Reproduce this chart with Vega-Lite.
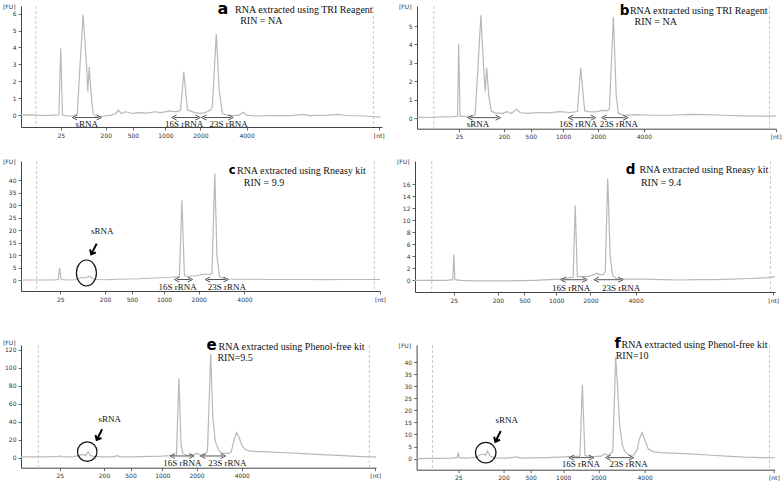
{
  "$schema": "https://vega.github.io/schema/vega-lite/v6.json",
  "padding": {"left": 2, "top": 0, "right": 0, "bottom": 0},
  "spacing": 32,
  "datasets": {
    "trace": [
      {"p":"a","u":0,"v":0},{"p":"a","u":3,"v":0.02},{"p":"a","u":6,"v":-0.03},{"p":"a","u":9,"v":0},{"p":"a","u":10.5,"v":0.02},{"p":"a","u":11.0,"v":3.94},{"p":"a","u":11.5,"v":0.0},{"p":"a","u":13,"v":-0.05},{"p":"a","u":15,"v":-0.05},{"p":"a","u":15.6,"v":0.1},{"p":"a","u":16.3,"v":2.8},{"p":"a","u":17.2,"v":5.93},{"p":"a","u":18.2,"v":2.8},{"p":"a","u":18.5,"v":1.4},{"p":"a","u":18.9,"v":2.85},{"p":"a","u":19.5,"v":1.05},{"p":"a","u":20.0,"v":0.07},{"p":"a","u":21,"v":-0.1},{"p":"a","u":23,"v":-0.05},{"p":"a","u":25,"v":0.0},{"p":"a","u":26.3,"v":0.1},{"p":"a","u":27,"v":0.3},{"p":"a","u":27.8,"v":0.1},{"p":"a","u":29,"v":0.2},{"p":"a","u":31,"v":0.1},{"p":"a","u":33,"v":0.15},{"p":"a","u":35,"v":0.12},{"p":"a","u":37,"v":0.2},{"p":"a","u":39,"v":0.15},{"p":"a","u":41,"v":0.25},{"p":"a","u":43,"v":0.2},{"p":"a","u":44.2,"v":0.3},{"p":"a","u":45.1,"v":2.56},{"p":"a","u":46.1,"v":0.3},{"p":"a","u":47,"v":0.25},{"p":"a","u":48,"v":0.15},{"p":"a","u":49.5,"v":0.1},{"p":"a","u":51,"v":0.15},{"p":"a","u":52.5,"v":0.3},{"p":"a","u":53.0,"v":0.5},{"p":"a","u":54.1,"v":4.79},{"p":"a","u":54.9,"v":1.5},{"p":"a","u":55.8,"v":0.1},{"p":"a","u":57,"v":0.0},{"p":"a","u":59,"v":-0.03},{"p":"a","u":60.5,"v":0.0},{"p":"a","u":61.6,"v":0.17},{"p":"a","u":62.5,"v":0.0},{"p":"a","u":65,"v":-0.05},{"p":"a","u":70,"v":-0.03},{"p":"a","u":75,"v":-0.03},{"p":"a","u":78,"v":0.05},{"p":"a","u":80,"v":-0.03},{"p":"a","u":85,"v":0.0},{"p":"a","u":88,"v":0.05},{"p":"a","u":90,"v":-0.02},{"p":"a","u":95,"v":-0.05},{"p":"a","u":99.6,"v":-0.12},

      {"p":"b","u":-0.7,"v":0.05},{"p":"b","u":3,"v":0.03},{"p":"b","u":6,"v":0.06},{"p":"b","u":9,"v":0.07},{"p":"b","u":10.6,"v":0.1},{"p":"b","u":10.9,"v":4.04},{"p":"b","u":11.3,"v":0.1},{"p":"b","u":13,"v":0.08},{"p":"b","u":15,"v":0.1},{"p":"b","u":15.5,"v":0.2},{"p":"b","u":16.3,"v":2.8},{"p":"b","u":17.1,"v":5.58},{"p":"b","u":17.9,"v":2.6},{"p":"b","u":18.3,"v":1.45},{"p":"b","u":18.7,"v":2.74},{"p":"b","u":19.3,"v":1.2},{"p":"b","u":20.0,"v":0.38},{"p":"b","u":21,"v":0.28},{"p":"b","u":23,"v":0.25},{"p":"b","u":24.5,"v":0.35},{"p":"b","u":25.5,"v":0.25},{"p":"b","u":27.0,"v":0.47},{"p":"b","u":28,"v":0.3},{"p":"b","u":30,"v":0.25},{"p":"b","u":33,"v":0.3},{"p":"b","u":36,"v":0.28},{"p":"b","u":39,"v":0.35},{"p":"b","u":42,"v":0.3},{"p":"b","u":44.0,"v":0.35},{"p":"b","u":44.9,"v":2.73},{"p":"b","u":46.0,"v":0.4},{"p":"b","u":47,"v":0.35},{"p":"b","u":49,"v":0.33},{"p":"b","u":51,"v":0.42},{"p":"b","u":52.5,"v":0.4},{"p":"b","u":52.9,"v":0.5},{"p":"b","u":54.0,"v":5.49},{"p":"b","u":54.8,"v":1.2},{"p":"b","u":55.4,"v":0.25},{"p":"b","u":57,"v":0.15},{"p":"b","u":60,"v":0.18},{"p":"b","u":65,"v":0.15},{"p":"b","u":70,"v":0.15},{"p":"b","u":75,"v":0.2},{"p":"b","u":80,"v":0.18},{"p":"b","u":85,"v":0.15},{"p":"b","u":90,"v":0.12},{"p":"b","u":95,"v":0.1},{"p":"b","u":99.3,"v":0.12},

      {"p":"c","u":0,"v":0.1},{"p":"c","u":5,"v":0.1},{"p":"c","u":9,"v":0.1},{"p":"c","u":10.4,"v":0.3},{"p":"c","u":10.8,"v":4.9},{"p":"c","u":11.2,"v":0.3},{"p":"c","u":13,"v":0.1},{"p":"c","u":15,"v":0.2},{"p":"c","u":16,"v":0.8},{"p":"c","u":17,"v":1.1},{"p":"c","u":18,"v":0.9},{"p":"c","u":19,"v":1.6},{"p":"c","u":20,"v":0.7},{"p":"c","u":21,"v":0.3},{"p":"c","u":24,"v":0.2},{"p":"c","u":27,"v":0.4},{"p":"c","u":30,"v":0.5},{"p":"c","u":33,"v":0.6},{"p":"c","u":36,"v":0.8},{"p":"c","u":39,"v":1.0},{"p":"c","u":42,"v":1.2},{"p":"c","u":44.3,"v":1.5},{"p":"c","u":45.0,"v":32},{"p":"c","u":45.7,"v":1.8},{"p":"c","u":47,"v":1.6},{"p":"c","u":49,"v":1.8},{"p":"c","u":50.5,"v":2.2},{"p":"c","u":51.7,"v":2.5},{"p":"c","u":52.8,"v":2.3},{"p":"c","u":53.4,"v":2.8},{"p":"c","u":54.2,"v":42.7},{"p":"c","u":54.8,"v":10},{"p":"c","u":55.5,"v":1.5},{"p":"c","u":57,"v":0.5},{"p":"c","u":60,"v":0.4},{"p":"c","u":65,"v":0.4},{"p":"c","u":70,"v":0.3},{"p":"c","u":75,"v":0.3},{"p":"c","u":80,"v":0.3},{"p":"c","u":85,"v":0.25},{"p":"c","u":90,"v":0.3},{"p":"c","u":95,"v":0.3},{"p":"c","u":100.4,"v":0.3},

      {"p":"d","u":0,"v":0},{"p":"d","u":5,"v":0},{"p":"d","u":9,"v":0},{"p":"d","u":10.7,"v":0.1},{"p":"d","u":11.0,"v":4.3},{"p":"d","u":11.3,"v":0.1},{"p":"d","u":13,"v":0},{"p":"d","u":17,"v":-0.1},{"p":"d","u":21,"v":-0.1},{"p":"d","u":25,"v":-0.1},{"p":"d","u":30,"v":-0.05},{"p":"d","u":34,"v":0},{"p":"d","u":38,"v":0.1},{"p":"d","u":41,"v":0.2},{"p":"d","u":43,"v":0.4},{"p":"d","u":44.8,"v":0.5},{"p":"d","u":45.4,"v":12.5},{"p":"d","u":46.0,"v":0.6},{"p":"d","u":47.5,"v":0.6},{"p":"d","u":49,"v":0.6},{"p":"d","u":50.5,"v":0.9},{"p":"d","u":51.6,"v":1.2},{"p":"d","u":52.5,"v":0.9},{"p":"d","u":53.5,"v":1.0},{"p":"d","u":53.9,"v":1.5},{"p":"d","u":54.6,"v":17.0},{"p":"d","u":55.3,"v":4},{"p":"d","u":56,"v":0.8},{"p":"d","u":57,"v":0.3},{"p":"d","u":60,"v":0.2},{"p":"d","u":65,"v":0.2},{"p":"d","u":70,"v":0.1},{"p":"d","u":75,"v":0.05},{"p":"d","u":80,"v":0.1},{"p":"d","u":85,"v":0.1},{"p":"d","u":90,"v":0.2},{"p":"d","u":95,"v":0.3},{"p":"d","u":100,"v":0.45},{"p":"d","u":102,"v":0.6},

      {"p":"e","u":0,"v":1},{"p":"e","u":5,"v":1},{"p":"e","u":9,"v":1.2},{"p":"e","u":10.7,"v":1.5},{"p":"e","u":11.0,"v":2.2},{"p":"e","u":11.3,"v":1.2},{"p":"e","u":13,"v":1},{"p":"e","u":15,"v":1.2},{"p":"e","u":16.5,"v":2.5},{"p":"e","u":17.5,"v":3.7},{"p":"e","u":18.3,"v":2.5},{"p":"e","u":19.0,"v":6.7},{"p":"e","u":19.6,"v":2.5},{"p":"e","u":20.5,"v":1.5},{"p":"e","u":23,"v":1},{"p":"e","u":26,"v":1},{"p":"e","u":27.3,"v":2.2},{"p":"e","u":28,"v":1},{"p":"e","u":31,"v":1},{"p":"e","u":34,"v":1.2},{"p":"e","u":37,"v":1.5},{"p":"e","u":40,"v":1.8},{"p":"e","u":42,"v":2.2},{"p":"e","u":44.0,"v":3},{"p":"e","u":44.7,"v":88},{"p":"e","u":45.3,"v":15},{"p":"e","u":45.8,"v":5},{"p":"e","u":47,"v":2.5},{"p":"e","u":48.5,"v":2.5},{"p":"e","u":49.8,"v":5},{"p":"e","u":50.8,"v":2.8},{"p":"e","u":52,"v":3},{"p":"e","u":52.8,"v":8},{"p":"e","u":53.7,"v":115},{"p":"e","u":54.3,"v":45},{"p":"e","u":55,"v":18},{"p":"e","u":56,"v":8},{"p":"e","u":57,"v":5},{"p":"e","u":58.5,"v":4.5},{"p":"e","u":59.5,"v":6},{"p":"e","u":60.2,"v":18},{"p":"e","u":61.0,"v":28},{"p":"e","u":61.7,"v":23},{"p":"e","u":62.5,"v":14},{"p":"e","u":63.3,"v":9.6},{"p":"e","u":64.5,"v":7.5},{"p":"e","u":66,"v":7},{"p":"e","u":70,"v":6.5},{"p":"e","u":75,"v":5.5},{"p":"e","u":80,"v":4.5},{"p":"e","u":85,"v":3.5},{"p":"e","u":90,"v":2.5},{"p":"e","u":95,"v":1.5},{"p":"e","u":98,"v":1},{"p":"e","u":100.5,"v":1},

      {"p":"f","u":-0.5,"v":0},{"p":"f","u":5,"v":0.1},{"p":"f","u":9,"v":0.2},{"p":"f","u":10.7,"v":0.4},{"p":"f","u":11.0,"v":2.5},{"p":"f","u":11.3,"v":0.4},{"p":"f","u":13,"v":0.2},{"p":"f","u":16,"v":0.5},{"p":"f","u":17,"v":1.6},{"p":"f","u":18,"v":1.8},{"p":"f","u":18.5,"v":1.4},{"p":"f","u":19.1,"v":3.2},{"p":"f","u":19.7,"v":1.2},{"p":"f","u":21,"v":0.3},{"p":"f","u":24,"v":0.2},{"p":"f","u":27.4,"v":0.7},{"p":"f","u":28,"v":0.2},{"p":"f","u":31,"v":0.3},{"p":"f","u":35,"v":0.4},{"p":"f","u":39,"v":0.6},{"p":"f","u":42,"v":0.8},{"p":"f","u":44.6,"v":1},{"p":"f","u":45.3,"v":30.5},{"p":"f","u":46.0,"v":1.2},{"p":"f","u":48,"v":0.8},{"p":"f","u":50.5,"v":1},{"p":"f","u":51.5,"v":2},{"p":"f","u":52.5,"v":1.2},{"p":"f","u":53.7,"v":3},{"p":"f","u":54.5,"v":42},{"p":"f","u":55.0,"v":30},{"p":"f","u":55.6,"v":14},{"p":"f","u":56.3,"v":6},{"p":"f","u":57,"v":3},{"p":"f","u":58,"v":1.6},{"p":"f","u":59.5,"v":1.5},{"p":"f","u":60.5,"v":4},{"p":"f","u":61.0,"v":8},{"p":"f","u":61.8,"v":10.8},{"p":"f","u":62.5,"v":8},{"p":"f","u":63.5,"v":4},{"p":"f","u":65,"v":2.8},{"p":"f","u":67,"v":2.5},{"p":"f","u":70,"v":2.3},{"p":"f","u":75,"v":2},{"p":"f","u":80,"v":1.5},{"p":"f","u":85,"v":1},{"p":"f","u":90,"v":0.6},{"p":"f","u":95,"v":0.4},{"p":"f","u":98.4,"v":0.4}
    ],
    "vline": [
      {"p":"a","u":4.1},{"p":"a","u":97.6},
      {"p":"b","u":4.0},{"p":"b","u":97.5},
      {"p":"c","u":4.4},{"p":"c","u":98.8},
      {"p":"d","u":4.75},{"p":"d","u":100.7},
      {"p":"e","u":4.9},{"p":"e","u":98.6},
      {"p":"f","u":3.9},{"p":"f","u":97.0}
    ],
    "arrow": [
      {"p":"a","u1":14.9,"u2":21.6,"v":-0.14},{"p":"a","u1":42.4,"u2":49.0,"v":-0.14},{"p":"a","u1":50.7,"u2":58.1,"v":-0.14},
      {"p":"b","u1":14.1,"u2":21.9,"v":0.02},{"p":"b","u1":42.1,"u2":48.4,"v":0.02},{"p":"b","u1":51.4,"u2":57.4,"v":0.02},
      {"p":"c","u1":43.6,"u2":47.3,"v":0.3},{"p":"c","u1":52.2,"u2":57.3,"v":0.3},
      {"p":"d","u1":42.0,"u2":48.1,"v":0.1},{"p":"d","u1":51.4,"u2":58.3,"v":0.1},
      {"p":"e","u1":42.9,"u2":48.3,"v":1.9},{"p":"e","u1":51.5,"u2":57.2,"v":1.9},
      {"p":"f","u1":42.3,"u2":47.8,"v":0.4},{"p":"f","u1":52.4,"u2":58.8,"v":0.4}
    ],
    "label": [
      {"p":"a","u":18.2,"v":-0.55,"t":"sRNA"},{"p":"a","u":45.2,"v":-0.55,"t":"16S rRNA"},{"p":"a","u":57.5,"v":-0.55,"t":"23S rRNA"},
      {"p":"b","u":16.3,"v":-0.31,"t":"sRNA"},{"p":"b","u":44.2,"v":-0.31,"t":"16S rRNA"},{"p":"b","u":55.5,"v":-0.31,"t":"23S rRNA"},
      {"p":"c","u":22.7,"v":19.7,"t":"sRNA"},{"p":"c","u":43.8,"v":-2.7,"t":"16S rRNA"},{"p":"c","u":57.6,"v":-2.7,"t":"23S rRNA"},
      {"p":"d","u":44.2,"v":-1.2,"t":"16S rRNA"},{"p":"d","u":58.4,"v":-1.2,"t":"23S rRNA"},
      {"p":"e","u":25.1,"v":43,"t":"sRNA"},{"p":"e","u":45.7,"v":-6.3,"t":"16S rRNA"},{"p":"e","u":58.4,"v":-6.3,"t":"23S rRNA"},
      {"p":"f","u":24.4,"v":15.9,"t":"sRNA"},{"p":"f","u":44.9,"v":-2.3,"t":"16S rRNA"},{"p":"f","u":58.1,"v":-2.3,"t":"23S rRNA"}
    ],
    "letter": [
      {"p":"a","u":54.4,"v":5.98,"t":"a"},{"p":"b","u":55.8,"v":5.6,"t":"b"},{"p":"c","u":58.1,"v":42.4,"t":"c"},
      {"p":"d","u":59.7,"v":17.7,"t":"d"},{"p":"e","u":52.5,"v":118.9,"t":"e"},{"p":"f","u":54.2,"v":45.9,"t":"f"}
    ],
    "note": [
      {"p":"a","u":59.3,"v":6.04,"t":"RNA extracted using TRI Reagent"},{"p":"a","u":60.7,"v":5.38,"t":"RIN = NA"},
      {"p":"b","u":58.6,"v":5.67,"t":"RNA extracted using TRI Reagent"},{"p":"b","u":59.9,"v":5.05,"t":"RIN = NA"},
      {"p":"c","u":60.4,"v":42.7,"t":"RNA extracted using Rneasy kit"},{"p":"c","u":62.3,"v":37.6,"t":"RIN = 9.9"},
      {"p":"d","u":63.6,"v":17.9,"t":"RNA extracted using Rneasy kit"},{"p":"d","u":64.0,"v":15.7,"t":"RIN = 9.4"},
      {"p":"e","u":55.9,"v":120,"t":"RNA extracted using Phenol-free kit"},{"p":"e","u":55.6,"v":107.8,"t":"RIN=9.5"},
      {"p":"f","u":56.1,"v":45.9,"t":"RNA extracted using Phenol-free kit"},{"p":"f","u":54.5,"v":41.4,"t":"RIN=10"}
    ],
    "circle": [
      {"p":"c","u":18.3,"v":2.9},{"p":"e","u":18.75,"v":6.7},{"p":"f","u":18.6,"v":2.5}
    ],
    "pointer": [
      {"p":"c","u":20.4,"v":12.5},{"p":"e","u":22.2,"v":25.6},{"p":"f","u":22.0,"v":9.2}
    ]
  },
  "vconcat": [
    {
      "spacing": 18,
      "vconcat": [
        {
          "spacing": 13,
          "hconcat": [
            {
              "width": 361, "height": 121,
              "layer": [
                {"data":{"name":"vline"},"transform":[{"filter":"datum.p=='a'"}],"mark":{"type":"rule","color":"#bdbdbd","strokeDash":[3,2],"strokeWidth":0.8},"encoding":{"x":{"field":"u","type":"quantitative"}}},
                {"data":{"name":"trace"},"transform":[{"filter":"datum.p=='a'"}],"mark":{"type":"line","color":"#b8b8b8","strokeWidth":1.2},
                 "encoding":{"x":{"field":"u","type":"quantitative","scale":{"domain":[0,100],"nice":false,"zero":false},"axis":{"values":[11,23.5,31,40,49.7,62.5,99.1],"tickCount":30,"title":null,"labelOverlap":false,"labelExpr":"datum.value < 12 ? '25' : datum.value < 25 ? '200' : datum.value < 35 ? '500' : datum.value < 45 ? '1000' : datum.value < 55 ? '2000' : datum.value < 70 ? '4000' : '[nt]'"}},
                             "y":{"field":"v","type":"quantitative","scale":{"domain":[-0.7,6.45],"nice":false,"zero":false},"axis":{"values":[0,1,2,3,4,5,6],"tickCount":30,"format":"d","title":"[FU]","labelOverlap":false}}}},
                {"data":{"name":"arrow"},"transform":[{"filter":"datum.p=='a'"}],"mark":{"type":"rule","color":"#555","strokeWidth":1},"encoding":{"x":{"field":"u1","type":"quantitative"},"x2":{"field":"u2"},"y":{"field":"v","type":"quantitative"}}},
                {"data":{"name":"arrow"},"transform":[{"filter":"datum.p=='a'"},{"fold":["u1","u2"],"as":["end","pos"]}],"mark":{"type":"point","filled":false,"color":"#555","size":25,"strokeWidth":1,"opacity":1},
                 "encoding":{"x":{"field":"pos","type":"quantitative"},"y":{"field":"v","type":"quantitative"},"shape":{"field":"end","type":"nominal","scale":{"domain":["u1","u2"],"range":["M 1 -1 L -1 0 L 1 1","M -1 -1 L 1 0 L -1 1"]},"legend":null}}},
                {"data":{"name":"label"},"transform":[{"filter":"datum.p=='a'"}],"mark":{"type":"text","font":"Liberation Serif","fontSize":9,"color":"#111","align":"center","baseline":"middle"},"encoding":{"x":{"field":"u","type":"quantitative"},"y":{"field":"v","type":"quantitative"},"text":{"field":"t"}}},
                {"data":{"name":"letter"},"transform":[{"filter":"datum.p=='a'"}],"mark":{"type":"text","font":"DejaVu Sans","fontWeight":"bold","fontSize":16,"color":"#000","align":"left","baseline":"alphabetic"},"encoding":{"x":{"field":"u","type":"quantitative"},"y":{"field":"v","type":"quantitative"},"text":{"field":"t"}}},
                {"data":{"name":"note"},"transform":[{"filter":"datum.p=='a'"}],"mark":{"type":"text","font":"Liberation Serif","fontSize":10,"color":"#111","align":"left","baseline":"alphabetic"},"encoding":{"x":{"field":"u","type":"quantitative"},"y":{"field":"v","type":"quantitative"},"text":{"field":"t"}}}
              ]
            },
            {
              "width": 359, "height": 122.7,
              "layer": [
                {"data":{"name":"vline"},"transform":[{"filter":"datum.p=='b'"}],"mark":{"type":"rule","color":"#bdbdbd","strokeDash":[3,2],"strokeWidth":0.8},"encoding":{"x":{"field":"u","type":"quantitative"}}},
                {"data":{"name":"trace"},"transform":[{"filter":"datum.p=='b'"}],"mark":{"type":"line","color":"#b8b8b8","strokeWidth":1.2},
                 "encoding":{"x":{"field":"u","type":"quantitative","scale":{"domain":[-0.7,99.3],"nice":false,"zero":false},"axis":{"values":[11,23.5,31,40,49.7,62.5,99.2],"tickCount":30,"title":null,"labelOverlap":false,"labelExpr":"datum.value < 12 ? '25' : datum.value < 25 ? '200' : datum.value < 35 ? '500' : datum.value < 45 ? '1000' : datum.value < 55 ? '2000' : datum.value < 70 ? '4000' : '[nt]'"}},
                             "y":{"field":"v","type":"quantitative","scale":{"domain":[-0.58,6.09],"nice":false,"zero":false},"axis":{"values":[0,1,2,3,4,5],"tickCount":30,"format":"d","title":"[FU]","labelOverlap":false}}}},
                {"data":{"name":"arrow"},"transform":[{"filter":"datum.p=='b'"}],"mark":{"type":"rule","color":"#555","strokeWidth":1},"encoding":{"x":{"field":"u1","type":"quantitative"},"x2":{"field":"u2"},"y":{"field":"v","type":"quantitative"}}},
                {"data":{"name":"arrow"},"transform":[{"filter":"datum.p=='b'"},{"fold":["u1","u2"],"as":["end","pos"]}],"mark":{"type":"point","filled":false,"color":"#555","size":25,"strokeWidth":1,"opacity":1},
                 "encoding":{"x":{"field":"pos","type":"quantitative"},"y":{"field":"v","type":"quantitative"},"shape":{"field":"end","type":"nominal","scale":{"domain":["u1","u2"],"range":["M 1 -1 L -1 0 L 1 1","M -1 -1 L 1 0 L -1 1"]},"legend":null}}},
                {"data":{"name":"label"},"transform":[{"filter":"datum.p=='b'"}],"mark":{"type":"text","font":"Liberation Serif","fontSize":9,"color":"#111","align":"center","baseline":"middle"},"encoding":{"x":{"field":"u","type":"quantitative"},"y":{"field":"v","type":"quantitative"},"text":{"field":"t"}}},
                {"data":{"name":"letter"},"transform":[{"filter":"datum.p=='b'"}],"mark":{"type":"text","font":"DejaVu Sans","fontWeight":"bold","fontSize":13.5,"color":"#000","align":"left","baseline":"alphabetic"},"encoding":{"x":{"field":"u","type":"quantitative"},"y":{"field":"v","type":"quantitative"},"text":{"field":"t"}}},
                {"data":{"name":"note"},"transform":[{"filter":"datum.p=='b'"}],"mark":{"type":"text","font":"Liberation Serif","fontSize":10,"color":"#111","align":"left","baseline":"alphabetic"},"encoding":{"x":{"field":"u","type":"quantitative"},"y":{"field":"v","type":"quantitative"},"text":{"field":"t"}}}
              ]
            }
          ]
        },
        {
          "spacing": 10,
          "hconcat": [
            {
              "width": 359, "height": 130,
              "layer": [
                {"data":{"name":"vline"},"transform":[{"filter":"datum.p=='c'"}],"mark":{"type":"rule","color":"#bdbdbd","strokeDash":[3,2],"strokeWidth":0.8},"encoding":{"x":{"field":"u","type":"quantitative"}}},
                {"data":{"name":"trace"},"transform":[{"filter":"datum.p=='c'"}],"mark":{"type":"line","color":"#b8b8b8","strokeWidth":1.2},
                 "encoding":{"x":{"field":"u","type":"quantitative","scale":{"domain":[0,100.4],"nice":false,"zero":false},"axis":{"values":[11,23.5,31,40,49.7,62.5,100.4],"tickCount":30,"title":null,"labelOverlap":false,"labelExpr":"datum.value < 12 ? '25' : datum.value < 25 ? '200' : datum.value < 35 ? '500' : datum.value < 45 ? '1000' : datum.value < 55 ? '2000' : datum.value < 70 ? '4000' : '[nt]'"}},
                             "y":{"field":"v","type":"quantitative","scale":{"domain":[-4.3,47.7],"nice":false,"zero":false},"axis":{"values":[0,5,10,15,20,25,30,35,40],"tickCount":30,"format":"d","title":"[FU]","labelOverlap":false}}}},
                {"data":{"name":"arrow"},"transform":[{"filter":"datum.p=='c'"}],"mark":{"type":"rule","color":"#555","strokeWidth":1},"encoding":{"x":{"field":"u1","type":"quantitative"},"x2":{"field":"u2"},"y":{"field":"v","type":"quantitative"}}},
                {"data":{"name":"arrow"},"transform":[{"filter":"datum.p=='c'"},{"fold":["u1","u2"],"as":["end","pos"]}],"mark":{"type":"point","filled":false,"color":"#555","size":25,"strokeWidth":1,"opacity":1},
                 "encoding":{"x":{"field":"pos","type":"quantitative"},"y":{"field":"v","type":"quantitative"},"shape":{"field":"end","type":"nominal","scale":{"domain":["u1","u2"],"range":["M 1 -1 L -1 0 L 1 1","M -1 -1 L 1 0 L -1 1"]},"legend":null}}},
                {"data":{"name":"label"},"transform":[{"filter":"datum.p=='c'"}],"mark":{"type":"text","font":"Liberation Serif","fontSize":9,"color":"#111","align":"center","baseline":"middle"},"encoding":{"x":{"field":"u","type":"quantitative"},"y":{"field":"v","type":"quantitative"},"text":{"field":"t"}}},
                {"data":{"name":"circle"},"transform":[{"filter":"datum.p=='c'"}],"mark":{"type":"point","filled":false,"color":"#111","strokeWidth":1.2,"opacity":1,"size":676,"shape":"M -0.77 0 A 0.77 1 0 1 0 0.77 0 A 0.77 1 0 1 0 -0.77 0 Z"},"encoding":{"x":{"field":"u","type":"quantitative"},"y":{"field":"v","type":"quantitative"}}},
                {"data":{"name":"pointer"},"transform":[{"filter":"datum.p=='c'"}],"mark":{"type":"point","filled":false,"color":"#000","strokeWidth":2,"opacity":1,"size":144,"angle":27,"shape":"M 0 -1 L 0 1 M -0.55 0.35 L 0 1 L 0.55 0.35"},"encoding":{"x":{"field":"u","type":"quantitative"},"y":{"field":"v","type":"quantitative"}}},
                {"data":{"name":"letter"},"transform":[{"filter":"datum.p=='c'"}],"mark":{"type":"text","font":"DejaVu Sans","fontWeight":"bold","fontSize":11.5,"color":"#000","align":"left","baseline":"alphabetic"},"encoding":{"x":{"field":"u","type":"quantitative"},"y":{"field":"v","type":"quantitative"},"text":{"field":"t"}}},
                {"data":{"name":"note"},"transform":[{"filter":"datum.p=='c'"}],"mark":{"type":"text","font":"Liberation Serif","fontSize":10,"color":"#111","align":"left","baseline":"alphabetic"},"encoding":{"x":{"field":"u","type":"quantitative"},"y":{"field":"v","type":"quantitative"},"text":{"field":"t"}}}
              ]
            },
            {
              "width": 360, "height": 131,
              "layer": [
                {"data":{"name":"vline"},"transform":[{"filter":"datum.p=='d'"}],"mark":{"type":"rule","color":"#bdbdbd","strokeDash":[3,2],"strokeWidth":0.8},"encoding":{"x":{"field":"u","type":"quantitative"}}},
                {"data":{"name":"trace"},"transform":[{"filter":"datum.p=='d'"}],"mark":{"type":"line","color":"#b8b8b8","strokeWidth":1.2},
                 "encoding":{"x":{"field":"u","type":"quantitative","scale":{"domain":[0,102],"nice":false,"zero":false},"axis":{"values":[11,23.5,31,40,49.7,62.5,101.5],"tickCount":30,"title":null,"labelOverlap":false,"labelExpr":"datum.value < 12 ? '25' : datum.value < 25 ? '200' : datum.value < 35 ? '500' : datum.value < 45 ? '1000' : datum.value < 55 ? '2000' : datum.value < 70 ? '4000' : '[nt]'"}},
                             "y":{"field":"v","type":"quantitative","scale":{"domain":[-1.95,19.9],"nice":false,"zero":false},"axis":{"values":[0,2,4,6,8,10,12,14,16],"tickCount":30,"format":"d","title":"[FU]","labelOverlap":false}}}},
                {"data":{"name":"arrow"},"transform":[{"filter":"datum.p=='d'"}],"mark":{"type":"rule","color":"#555","strokeWidth":1},"encoding":{"x":{"field":"u1","type":"quantitative"},"x2":{"field":"u2"},"y":{"field":"v","type":"quantitative"}}},
                {"data":{"name":"arrow"},"transform":[{"filter":"datum.p=='d'"},{"fold":["u1","u2"],"as":["end","pos"]}],"mark":{"type":"point","filled":false,"color":"#555","size":25,"strokeWidth":1,"opacity":1},
                 "encoding":{"x":{"field":"pos","type":"quantitative"},"y":{"field":"v","type":"quantitative"},"shape":{"field":"end","type":"nominal","scale":{"domain":["u1","u2"],"range":["M 1 -1 L -1 0 L 1 1","M -1 -1 L 1 0 L -1 1"]},"legend":null}}},
                {"data":{"name":"label"},"transform":[{"filter":"datum.p=='d'"}],"mark":{"type":"text","font":"Liberation Serif","fontSize":9,"color":"#111","align":"center","baseline":"middle"},"encoding":{"x":{"field":"u","type":"quantitative"},"y":{"field":"v","type":"quantitative"},"text":{"field":"t"}}},
                {"data":{"name":"letter"},"transform":[{"filter":"datum.p=='d'"}],"mark":{"type":"text","font":"DejaVu Sans","fontWeight":"bold","fontSize":13.5,"color":"#000","align":"left","baseline":"alphabetic"},"encoding":{"x":{"field":"u","type":"quantitative"},"y":{"field":"v","type":"quantitative"},"text":{"field":"t"}}},
                {"data":{"name":"note"},"transform":[{"filter":"datum.p=='d'"}],"mark":{"type":"text","font":"Liberation Serif","fontSize":10,"color":"#111","align":"left","baseline":"alphabetic"},"encoding":{"x":{"field":"u","type":"quantitative"},"y":{"field":"v","type":"quantitative"},"text":{"field":"t"}}}
              ]
            }
          ]
        }
      ]
    },
    {
      "spacing": 16.6,
      "hconcat": [
        {
          "width": 355, "height": 122.7,
          "layer": [
            {"data":{"name":"vline"},"transform":[{"filter":"datum.p=='e'"}],"mark":{"type":"rule","color":"#bdbdbd","strokeDash":[3,2],"strokeWidth":0.8},"encoding":{"x":{"field":"u","type":"quantitative"}}},
            {"data":{"name":"trace"},"transform":[{"filter":"datum.p=='e'"}],"mark":{"type":"line","color":"#b8b8b8","strokeWidth":1.2},
             "encoding":{"x":{"field":"u","type":"quantitative","scale":{"domain":[0,100.5],"nice":false,"zero":false},"axis":{"values":[11,23.5,31,40,49.7,62.5,100.3],"tickCount":30,"title":null,"labelOverlap":false,"labelExpr":"datum.value < 12 ? '25' : datum.value < 25 ? '200' : datum.value < 35 ? '500' : datum.value < 45 ? '1000' : datum.value < 55 ? '2000' : datum.value < 70 ? '4000' : '[nt]'"}},
                         "y":{"field":"v","type":"quantitative","scale":{"domain":[-11.1,125],"nice":false,"zero":false},"axis":{"values":[0,20,40,60,80,100,120],"tickCount":30,"format":"d","title":"[FU]","titleY":-3,"labelOverlap":false}}}},
            {"data":{"name":"arrow"},"transform":[{"filter":"datum.p=='e'"}],"mark":{"type":"rule","color":"#555","strokeWidth":1},"encoding":{"x":{"field":"u1","type":"quantitative"},"x2":{"field":"u2"},"y":{"field":"v","type":"quantitative"}}},
            {"data":{"name":"arrow"},"transform":[{"filter":"datum.p=='e'"},{"fold":["u1","u2"],"as":["end","pos"]}],"mark":{"type":"point","filled":false,"color":"#555","size":25,"strokeWidth":1,"opacity":1},
             "encoding":{"x":{"field":"pos","type":"quantitative"},"y":{"field":"v","type":"quantitative"},"shape":{"field":"end","type":"nominal","scale":{"domain":["u1","u2"],"range":["M 1 -1 L -1 0 L 1 1","M -1 -1 L 1 0 L -1 1"]},"legend":null}}},
            {"data":{"name":"label"},"transform":[{"filter":"datum.p=='e'"}],"mark":{"type":"text","font":"Liberation Serif","fontSize":9,"color":"#111","align":"center","baseline":"middle"},"encoding":{"x":{"field":"u","type":"quantitative"},"y":{"field":"v","type":"quantitative"},"text":{"field":"t"}}},
            {"data":{"name":"circle"},"transform":[{"filter":"datum.p=='e'"}],"mark":{"type":"point","filled":false,"color":"#111","strokeWidth":1.2,"opacity":1,"size":380,"shape":"circle"},"encoding":{"x":{"field":"u","type":"quantitative"},"y":{"field":"v","type":"quantitative"}}},
            {"data":{"name":"pointer"},"transform":[{"filter":"datum.p=='e'"}],"mark":{"type":"point","filled":false,"color":"#000","strokeWidth":2,"opacity":1,"size":144,"angle":27,"shape":"M 0 -1 L 0 1 M -0.55 0.35 L 0 1 L 0.55 0.35"},"encoding":{"x":{"field":"u","type":"quantitative"},"y":{"field":"v","type":"quantitative"}}},
            {"data":{"name":"letter"},"transform":[{"filter":"datum.p=='e'"}],"mark":{"type":"text","font":"DejaVu Sans","fontWeight":"bold","fontSize":15,"color":"#000","align":"left","baseline":"alphabetic"},"encoding":{"x":{"field":"u","type":"quantitative"},"y":{"field":"v","type":"quantitative"},"text":{"field":"t"}}},
            {"data":{"name":"note"},"transform":[{"filter":"datum.p=='e'"}],"mark":{"type":"text","font":"Liberation Serif","fontSize":10,"color":"#111","align":"left","baseline":"alphabetic"},"encoding":{"x":{"field":"u","type":"quantitative"},"y":{"field":"v","type":"quantitative"},"text":{"field":"t"}}}
          ]
        },
        {
          "width": 358, "height": 124.7,
          "layer": [
            {"data":{"name":"vline"},"transform":[{"filter":"datum.p=='f'"}],"mark":{"type":"rule","color":"#bdbdbd","strokeDash":[3,2],"strokeWidth":0.8},"encoding":{"x":{"field":"u","type":"quantitative"}}},
            {"data":{"name":"trace"},"transform":[{"filter":"datum.p=='f'"}],"mark":{"type":"line","color":"#b8b8b8","strokeWidth":1.2},
             "encoding":{"x":{"field":"u","type":"quantitative","scale":{"domain":[-0.5,98.4],"nice":false,"zero":false},"axis":{"values":[11,23.5,31,40,49.7,62.5,98.2],"tickCount":30,"title":null,"labelOverlap":false,"labelExpr":"datum.value < 12 ? '25' : datum.value < 25 ? '200' : datum.value < 35 ? '500' : datum.value < 45 ? '1000' : datum.value < 55 ? '2000' : datum.value < 70 ? '4000' : '[nt]'"}},
                         "y":{"field":"v","type":"quantitative","scale":{"domain":[-4.6,47.1],"nice":false,"zero":false},"axis":{"values":[0,5,10,15,20,25,30,35,40],"tickCount":30,"format":"d","title":"[FU]","labelOverlap":false}}}},
            {"data":{"name":"arrow"},"transform":[{"filter":"datum.p=='f'"}],"mark":{"type":"rule","color":"#555","strokeWidth":1},"encoding":{"x":{"field":"u1","type":"quantitative"},"x2":{"field":"u2"},"y":{"field":"v","type":"quantitative"}}},
            {"data":{"name":"arrow"},"transform":[{"filter":"datum.p=='f'"},{"fold":["u1","u2"],"as":["end","pos"]}],"mark":{"type":"point","filled":false,"color":"#555","size":25,"strokeWidth":1,"opacity":1},
             "encoding":{"x":{"field":"pos","type":"quantitative"},"y":{"field":"v","type":"quantitative"},"shape":{"field":"end","type":"nominal","scale":{"domain":["u1","u2"],"range":["M 1 -1 L -1 0 L 1 1","M -1 -1 L 1 0 L -1 1"]},"legend":null}}},
            {"data":{"name":"label"},"transform":[{"filter":"datum.p=='f'"}],"mark":{"type":"text","font":"Liberation Serif","fontSize":9,"color":"#111","align":"center","baseline":"middle"},"encoding":{"x":{"field":"u","type":"quantitative"},"y":{"field":"v","type":"quantitative"},"text":{"field":"t"}}},
            {"data":{"name":"circle"},"transform":[{"filter":"datum.p=='f'"}],"mark":{"type":"point","filled":false,"color":"#111","strokeWidth":1.2,"opacity":1,"size":420,"shape":"circle"},"encoding":{"x":{"field":"u","type":"quantitative"},"y":{"field":"v","type":"quantitative"}}},
            {"data":{"name":"pointer"},"transform":[{"filter":"datum.p=='f'"}],"mark":{"type":"point","filled":false,"color":"#000","strokeWidth":2,"opacity":1,"size":144,"angle":27,"shape":"M 0 -1 L 0 1 M -0.55 0.35 L 0 1 L 0.55 0.35"},"encoding":{"x":{"field":"u","type":"quantitative"},"y":{"field":"v","type":"quantitative"}}},
            {"data":{"name":"letter"},"transform":[{"filter":"datum.p=='f'"}],"mark":{"type":"text","font":"DejaVu Sans","fontWeight":"bold","fontSize":14.5,"color":"#000","align":"left","baseline":"alphabetic"},"encoding":{"x":{"field":"u","type":"quantitative"},"y":{"field":"v","type":"quantitative"},"text":{"field":"t"}}},
            {"data":{"name":"note"},"transform":[{"filter":"datum.p=='f'"}],"mark":{"type":"text","font":"Liberation Serif","fontSize":10,"color":"#111","align":"left","baseline":"alphabetic"},"encoding":{"x":{"field":"u","type":"quantitative"},"y":{"field":"v","type":"quantitative"},"text":{"field":"t"}}}
          ]
        }
      ]
    }
  ],
  "config": {
    "view": {"stroke": null},
    "axis": {"grid": false, "domainColor": "#444", "tickColor": "#444", "labelColor": "#333", "labelFont": "DejaVu Sans", "labelFontSize": 6, "tickSize": 3, "labelPadding": 2, "domainWidth": 1, "tickWidth": 0.8, "titleFont": "DejaVu Sans", "titleFontSize": 6, "titleFontWeight": "normal", "titleColor": "#333", "labelOverlap": false},
    "axisX": {"labelFlush": false},
    "axisY": {"titleAngle": 0, "titleX": -6, "titleY": 0, "titleAlign": "right", "titleBaseline": "middle"}
  }
}
